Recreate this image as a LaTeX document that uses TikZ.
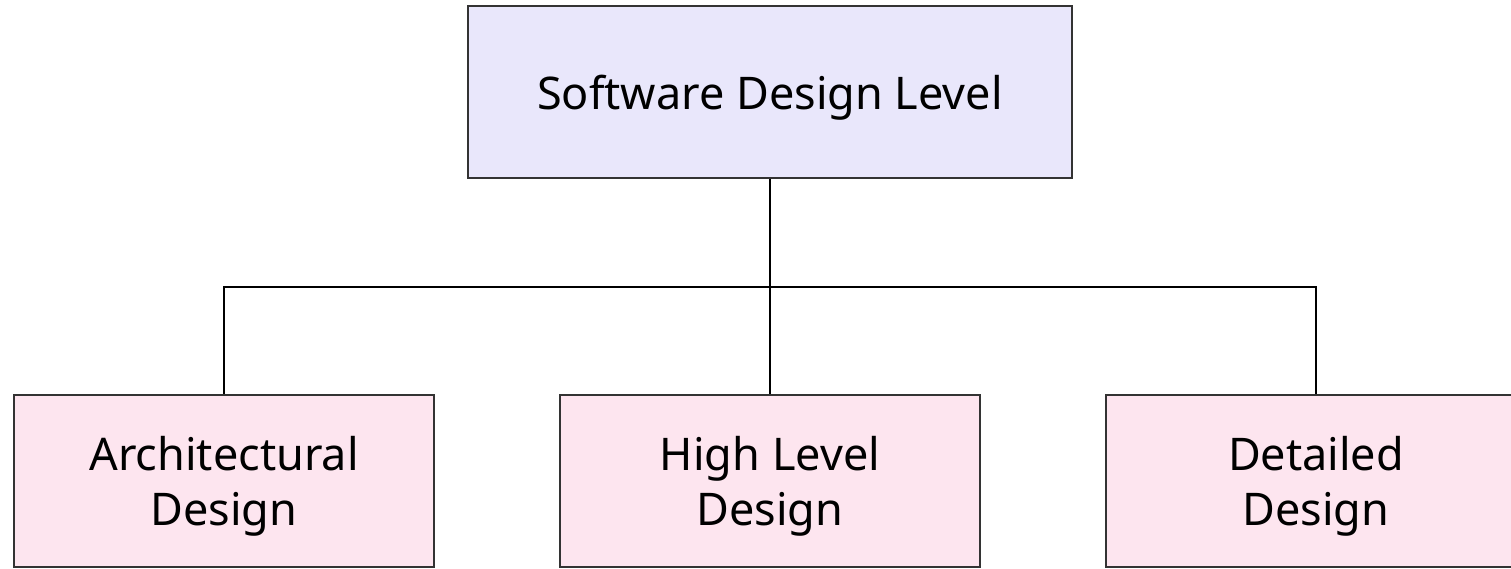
\documentclass[tikz,border=0pt]{standalone}
\usepackage{fontspec}
\setmainfont{Noto Sans}
\definecolor{topfill}{HTML}{E9E7FB}
\definecolor{botfill}{HTML}{FDE5EF}
\definecolor{edge}{HTML}{333333}
\begin{document}
\begin{tikzpicture}[x=1pt,y=-1pt,
  box/.style={draw=edge,line width=2pt,inner sep=0pt,align=center,font=\fontsize{45}{54.5}\selectfont,text=black,text depth=0pt},
  topbox/.style={box,fill=topfill,minimum width=604pt,minimum height=172pt},
  botbox/.style={box,fill=botfill,minimum width=420pt,minimum height=172pt},
  conn/.style={draw=black,line width=2pt}]
\useasboundingbox (0,0) rectangle (1511,569);
\node[topbox] (top) at (770,92) {Software Design Level};
\node[botbox] (a) at (224,481) {Architectural\\Design};
\node[botbox] (b) at (770,481) {High Level\\Design};
\node[botbox] (c) at (1316,481) {Detailed\\Design};
\coordinate (j) at (770,287);
\draw[conn] (top.south) -- (j);
\draw[conn] (j) -| (a.north);
\draw[conn] (j) -- (b.north);
\draw[conn] (j) -| (c.north);
\end{tikzpicture}
\end{document}
